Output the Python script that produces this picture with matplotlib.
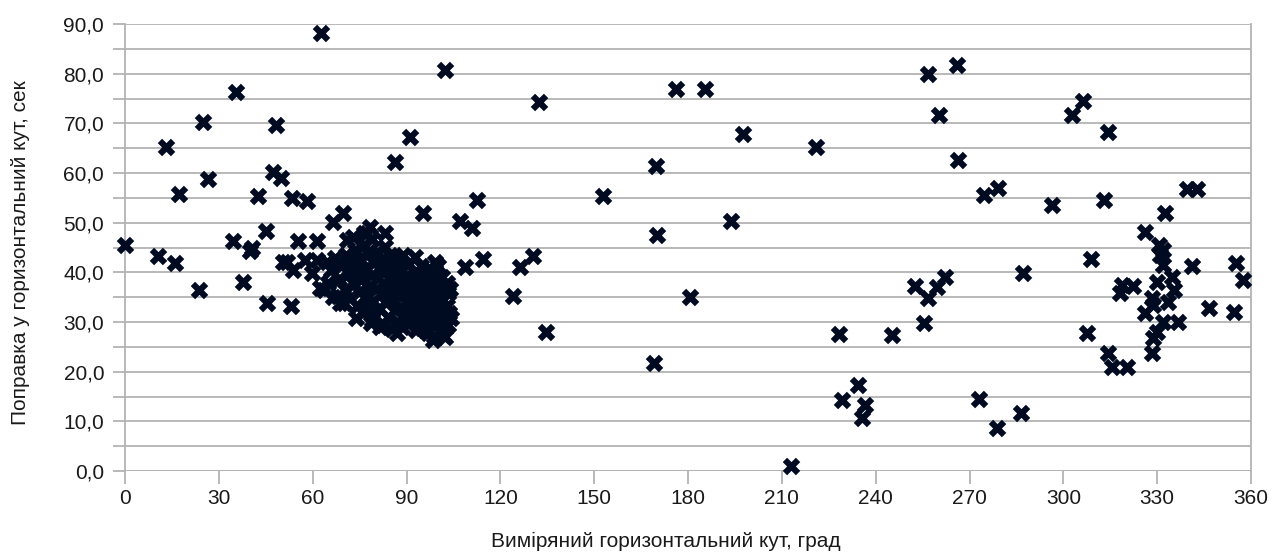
import matplotlib
matplotlib.use("Agg")
import matplotlib.pyplot as plt
from matplotlib.ticker import MultipleLocator, FuncFormatter

plt.rcParams['font.family'] = ['Liberation Sans', 'DejaVu Sans']

# Measured horizontal angle (deg) and correction (sec) -- sparse observations
angle_sparse = [
    0.0, 10.5, 13.1, 16.0, 17.3, 23.7, 25.0, 26.5, 34.5, 35.5, 37.7, 40.0, 40.6,
    42.5, 45.0, 45.4, 47.3, 48.3, 50.0, 50.5, 51.8, 53.0, 53.4, 53.7, 55.3, 57.5,
    58.2, 59.8, 61.4, 61.4, 62.3, 62.7, 66.5, 69.7, 86.3, 91.1, 95.3, 102.3,
    107.0, 111.0, 112.5, 108.7, 114.5, 124.0, 126.3, 130.4, 132.4, 134.6,
    152.8, 169.0, 169.8, 170.0, 176.2, 180.6, 185.4, 193.7, 197.6,
    213.0, 221.0, 228.3, 229.2, 234.3, 236.5, 235.6, 245.2, 252.6, 255.4,
    256.7, 256.7, 259.6, 260.3, 262.2, 266.0, 266.3, 273.0, 274.6, 279.0,
    278.8, 287.0, 286.4, 296.4, 302.7, 306.3, 307.5, 309.0, 313.0, 314.3,
    314.3, 315.5, 320.3, 318.7, 322.3, 318.0, 326.0, 326.0, 328.3, 328.3,
    328.6, 330.0, 330.0, 330.5, 331.0, 331.8, 331.8, 332.0, 332.5, 333.4,
    334.7, 335.4, 336.6, 339.5, 341.0, 342.7, 346.5, 354.5, 355.2, 357.4,
    328.6,
]
corr_sparse = [
    45.5, 43.3, 65.2, 41.9, 55.8, 36.4, 70.3, 58.8, 46.3, 76.3, 38.0, 44.3, 44.9,
    55.4, 48.3, 33.8, 60.2, 69.7, 59.0, 42.0, 42.0, 33.2, 55.0, 40.5, 46.3, 42.5,
    54.4, 39.9, 46.3, 42.5, 36.8, 88.2, 50.1, 52.0, 62.2, 67.2, 52.0, 80.7,
    50.3, 48.9, 54.6, 41.1, 42.7, 35.2, 41.0, 43.3, 74.3, 28.0,
    55.4, 21.7, 61.4, 47.5, 76.9, 35.0, 76.9, 50.3, 67.8,
    1.0, 65.2, 27.6, 14.3, 17.3, 13.3, 10.7, 27.4, 37.2, 29.8,
    80.0, 34.8, 37.0, 71.7, 39.1, 81.7, 62.6, 14.5, 55.6, 57.0,
    8.7, 39.9, 11.7, 53.6, 71.7, 74.5, 27.8, 42.7, 54.6, 68.2,
    23.8, 21.0, 21.0, 37.4, 37.2, 35.8, 48.1, 31.8, 34.8, 23.8,
    33.4, 38.0, 28.0, 45.5, 43.5, 41.5, 30.0, 44.5, 51.9, 34.0,
    39.0, 36.4, 30.0, 56.8, 41.3, 56.8, 32.8, 32.0, 41.9, 38.5,
    26.8,
]

# Dense group of observations between roughly 63 and 105 degrees
angle_dense = [
    64.5, 66.0, 67.2, 68.5, 69.0, 70.2, 70.8, 71.5, 72.0, 72.4, 73.1, 73.5, 74.0,
    74.3, 74.8, 75.2, 75.6, 76.0, 76.3, 76.8, 77.1, 77.5, 77.8, 78.2, 78.5, 78.8,
    79.1, 79.4, 79.7, 80.0, 80.3, 80.6, 80.9, 81.2, 81.5, 81.8, 82.1, 82.4, 82.7,
    83.0, 83.3, 83.6, 83.9, 84.2, 84.5, 84.8, 85.1, 85.4, 85.7, 86.0, 86.3, 86.6,
    86.9, 87.2, 87.5, 87.8, 88.1, 88.4, 88.7, 89.0, 89.3, 89.6, 89.9, 90.2, 90.5,
    90.8, 91.1, 91.4, 91.7, 92.0, 92.3, 92.6, 92.9, 93.2, 93.5, 93.8, 94.1, 94.4,
    94.7, 95.0, 95.3, 95.6, 95.9, 96.2, 96.5, 96.8, 97.1, 97.4, 97.7, 98.0, 98.3,
    98.6, 98.9, 99.2, 99.5, 99.8, 100.1, 100.4, 100.7, 101.0, 101.3, 101.6, 101.9,
    102.2, 102.5, 102.8, 103.1, 103.4, 103.7, 104.0, 104.3, 68.0, 66.5, 63.5,
    65.0, 71.0, 73.0, 76.5, 78.3, 77.4, 83.0, 85.7, 92.7, 99.0, 102.9, 87.0,
    98.5, 81.5, 79.0, 74.0, 70.0, 68.7, 101.7,
]
corr_dense = [
    42.0, 40.5, 42.8, 38.6, 41.2, 36.5, 43.5, 39.8, 34.9, 42.1, 37.6, 44.6, 40.3,
    33.2, 36.1, 42.7, 38.4, 31.8, 45.5, 35.0, 40.9, 33.6, 43.6, 37.2, 29.9, 39.5,
    46.8, 34.3, 41.8, 31.2, 36.7, 44.1, 38.9, 32.9, 42.3, 35.6, 40.2, 29.4, 37.8,
    45.2, 33.8, 41.0, 36.2, 31.0, 38.7, 43.4, 34.6, 28.6, 40.4, 36.9, 32.4, 42.6,
    38.1, 30.1, 35.3, 40.8, 33.1, 37.4, 28.9, 43.5, 35.9, 31.6, 39.2, 34.0, 29.7,
    41.6, 36.6, 32.2, 38.5, 30.6, 34.8, 40.1, 28.3, 36.3, 32.7, 38.9, 30.2, 34.4,
    41.2, 28.8, 36.8, 32.0, 39.6, 30.8, 34.9, 27.7, 37.6, 33.1, 29.8, 40.3, 35.5,
    31.4, 27.2, 38.2, 33.7, 30.0, 41.3, 36.0, 28.4, 32.6, 39.0, 34.5, 30.7,
    27.0, 37.1, 33.3, 29.5, 35.8, 31.9, 36.7, 30.9, 35.2, 35.0, 36.4,
    37.8, 46.5, 47.2, 48.0, 49.1, 47.9, 47.9, 43.0, 43.0, 42.0, 37.8, 27.8,
    26.4, 29.0, 30.5, 30.8, 33.8, 33.8, 27.4,
]

x_ticks = list(range(0, 361, 30))
y_major = list(range(0, 91, 10))

fig = plt.figure(figsize=(12.72, 5.52), dpi=100)
ax = fig.add_axes([0.0983, 0.1467, 0.8852, 0.8098])

grid_c = '#b3b3b3'
marker_c = '#000b22'
text_c = '#1a1a1a'

ax.scatter(angle_dense + angle_sparse, corr_dense + corr_sparse, marker='X',
           s=160, c=marker_c, linewidths=0, zorder=3, clip_on=False)

ax.set_xlim(0, 360)
ax.set_ylim(0, 90)
ax.set_xticks(x_ticks)
ax.set_yticks(y_major)
ax.yaxis.set_minor_locator(MultipleLocator(5))
ax.yaxis.set_major_formatter(FuncFormatter(lambda v, p: f"{v:.1f}".replace('.', ',')))

ax.grid(axis='y', which='both', color=grid_c, linewidth=1.3, zorder=0)
ax.set_axisbelow(True)

for side in ('top', 'bottom'):
    ax.spines[side].set_visible(False)
for side in ('left', 'right'):
    ax.spines[side].set_color(grid_c)
    ax.spines[side].set_linewidth(1.3)

ax.tick_params(axis='both', which='both', color=grid_c, width=1.3, length=9,
               direction='out', labelsize=15, labelcolor=text_c)
ax.tick_params(axis='x', pad=4)
ax.tick_params(axis='y', pad=6)
ax.tick_params(axis='y', which='minor', labelleft=False)

# Baseline at zero with the x ticks hanging below it
ax.axhline(0, color=grid_c, linewidth=1.3, zorder=1)

ax.set_xlabel('Виміряний горизонтальний кут, град', fontsize=15, color=text_c,
              va='center')
ax.set_ylabel('Поправка у горизонтальний кут, сек', fontsize=15, color=text_c,
              va='center')
ax.xaxis.set_label_coords(0.4805, -0.1566)
ax.yaxis.set_label_coords(-0.0932, 0.488)

fig.savefig('out.png', dpi=100, facecolor='white')
